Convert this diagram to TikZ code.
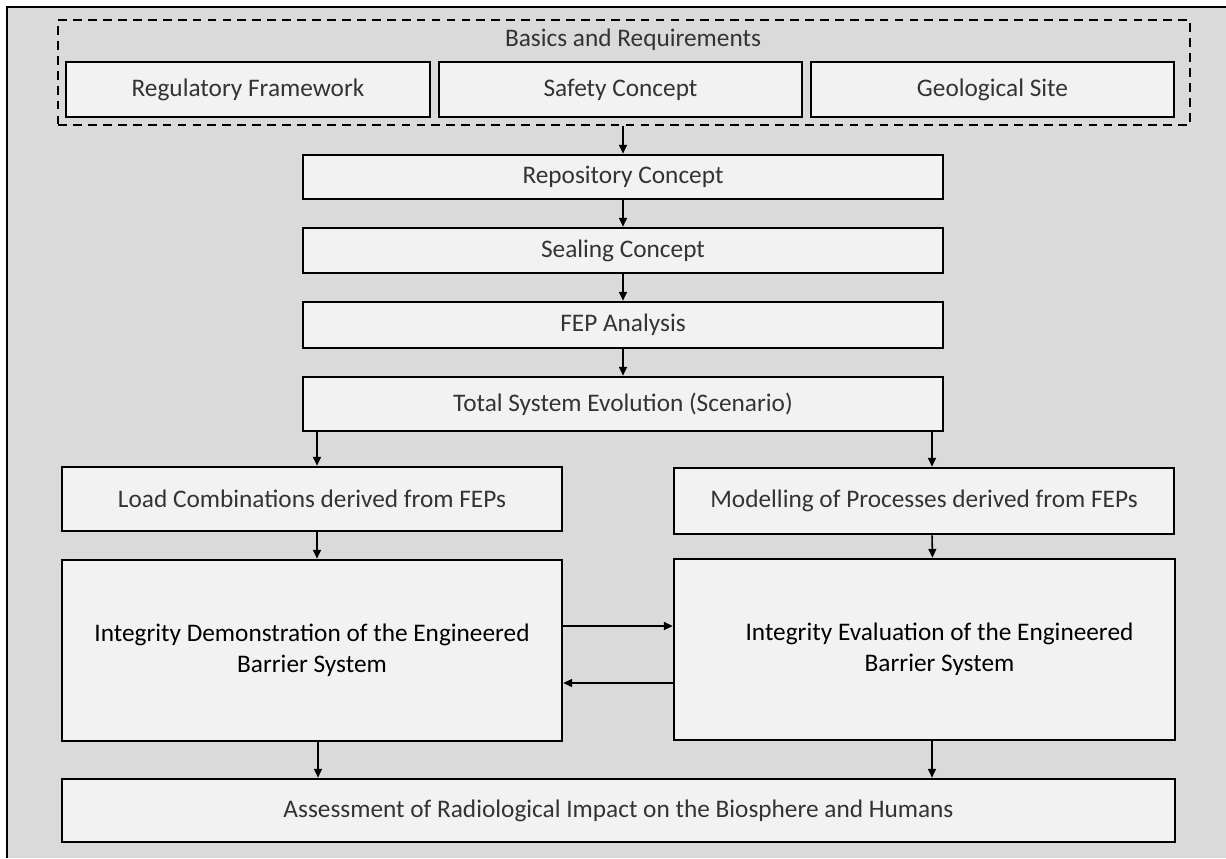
\documentclass[tikz,border=0pt]{standalone}
\usepackage{fontspec}
\setmainfont{Carlito}
\usepackage{tikz}
\usetikzlibrary{arrows.meta}
\definecolor{bggray}{HTML}{DADADA}
\definecolor{boxfill}{HTML}{F2F2F2}
\definecolor{txtgray}{HTML}{333333}

\begin{document}
\begin{tikzpicture}[x=0.02cm, y=-0.02cm, >={Triangle[length=5pt,width=4.5pt]},
    main/.style = {draw, fill=boxfill, line width=1.5pt, text=txtgray, font=\fontsize{14.4}{17}\selectfont, minimum width=10cm},
    big/.style = {main, text=black, align=center, minimum height=3.62cm, font=\fontsize{14.4}{17.6}\selectfont},
    flow/.style = {->, line width=0.9pt}]
    % Background
    \useasboundingbox (0,0) rectangle (1226,858);
    \fill[bggray] (7,7) rectangle (1226,858);
    \draw[line width=1.3pt] (7,858) -- (7,7) -- (1226,7);

    % Nodes
    \node[draw, line width=1.4pt, dash pattern=on 5pt off 3.5pt, minimum width=22.64cm, minimum height=2.1cm] (basics) at (624, 72.5) {};
    \node[text=txtgray, font=\fontsize{14.4}{17}\selectfont] (basicstitle) at (633, 40) {Basics and Requirements};
    \node[main, minimum width=7.28cm, minimum height=1.1cm] (reg) at (248, 89.5) {Regulatory Framework};
    \node[main, minimum width=7.26cm, minimum height=1.1cm] (safety) at (620.5, 89.5) {Safety Concept};
    \node[main, minimum width=7.26cm, minimum height=1.1cm] (geo) at (992.5, 89.5) {Geological Site};

    \node[main, minimum width=12.8cm, minimum height=0.88cm] (repo) at (623, 177) {Repository Concept};
    \node[main, minimum width=12.8cm, minimum height=0.9cm] (seal) at (623, 250.5) {Sealing Concept};
    \node[main, minimum width=12.8cm, minimum height=0.92cm] (fep) at (623, 325) {FEP Analysis};
    \node[main, minimum width=12.8cm, minimum height=1.08cm] (total) at (623, 404) {Total System Evolution (Scenario)};

    \node[main, minimum height=1.28cm] (load) at (312, 499) {Load Combinations derived from FEPs};
    \node[main, minimum height=1.32cm] (model) at (924, 501) {Modelling of Processes derived from FEPs};
    \node[big] (demo) at (312, 650.5) {Integrity Demonstration of the Engineered\\Barrier System};
    \node[big, minimum width=10.02cm] (evalbox) at (924.5, 649.5) {\hspace*{0.6cm}Integrity Evaluation of the Engineered\\\hspace*{0.6cm}Barrier System};
    \node[main, minimum width=22.26cm, minimum height=1.26cm] (assess) at (618.5, 810.5) {Assessment of Radiological Impact on the Biosphere and Humans};

    % Edges
    \draw[flow] (basics.south -| repo) -- (repo);
    \draw[flow] (repo) -- (seal);
    \draw[flow] (seal) -- (fep);
    \draw[flow] (fep) -- (total);
    \draw[flow] ([xshift=0.1cm]total.south -| load) -- ([xshift=0.1cm]load.north);
    \draw[flow] ([xshift=0.16cm]total.south -| model) -- ([xshift=0.16cm]model.north);
    \draw[flow] ([xshift=0.1cm]load.south) -- ([xshift=0.1cm]demo.north);
    \draw[flow] ([xshift=0.16cm]model.south) -- ([xshift=0.16cm]evalbox.north);
    \draw[flow] ([yshift=0.49cm]demo.east) -- ([yshift=0.49cm]demo.east -| evalbox.west);
    \draw[flow] ([yshift=-0.67cm]evalbox.west) -- ([yshift=-0.67cm]evalbox.west -| demo.east);
    \draw[flow] ([xshift=0.12cm]demo.south) -- ([xshift=0.12cm]demo.south |- assess.north);
    \draw[flow] ([xshift=0.15cm]evalbox.south) -- ([xshift=0.15cm]evalbox.south |- assess.north);
\end{tikzpicture}
\end{document}
